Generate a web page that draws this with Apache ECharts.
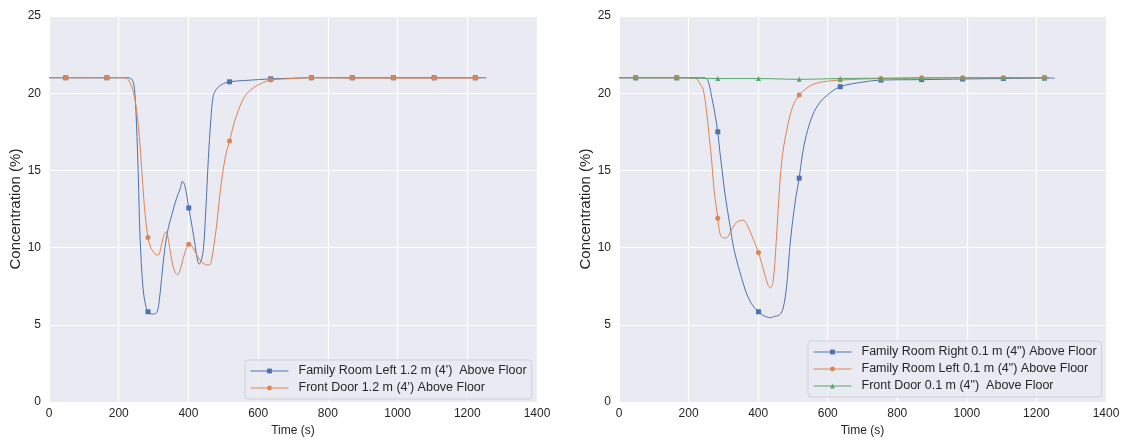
<!DOCTYPE html>
<html>
<head>
<meta charset="utf-8">
<script src="https://cdn.jsdelivr.net/npm/echarts@6/dist/echarts.min.js"></script>
<style>
html,body{margin:0;padding:0;background:#fff;}
#c{width:1125px;height:442px;}
</style>
</head>
<body>
<div id="c"></div>
<script>
// ---------- DATA ----------
const xTicks = [0, 200, 400, 600, 800, 1000, 1200, 1400];
const yTicks = [0, 5, 10, 15, 20, 25];
const markerTimes = [48, 166, 284, 401, 518, 636, 753, 870, 988, 1105, 1223];

const leftNames = ["Family Room Left 1.2 m (4')  Above Floor", "Front Door 1.2 m (4') Above Floor"];
const rightNames = ['Family Room Right 0.1 m (4") Above Floor', 'Family Room Left 0.1 m (4") Above Floor', 'Front Door 0.1 m (4")  Above Floor'];

// Left chart: Family Room Left 1.2 m
const famLeft12T = [0, 48, 100, 166, 200, 225, 235, 242, 247, 251, 256, 261, 270, 278, 284, 297, 309, 316, 323, 332, 342, 352, 366, 376, 383, 390, 401, 411, 419, 426, 431, 437, 443, 450, 457, 464, 471, 480, 495, 518, 560, 600, 636, 700, 753, 870, 988, 1105, 1223, 1255];
const famLeft12V = [21.0, 21.0, 21.0, 21.0, 21.0, 21.0, 20.95, 20.7, 19.8, 18.0, 14.8, 10.8, 7.3, 6.2, 5.85, 5.7, 5.8, 6.5, 8.0, 9.9, 11.25, 12.1, 13.2, 13.8, 14.3, 14.0, 12.57, 11.3, 10.17, 9.2, 8.93, 9.2, 9.9, 12.5, 15.7, 18.2, 19.8, 20.25, 20.56, 20.74, 20.82, 20.88, 20.93, 20.97, 21.0, 21.0, 21.0, 21.0, 21.0, 21.0];

// Left chart: Front Door 1.2 m
const frontDoor12T = [0, 48, 100, 166, 200, 222, 232, 242, 251, 259, 266, 274, 284, 292, 299, 307, 314, 320, 327, 336, 344, 352, 360, 369, 377, 385, 393, 401, 410, 420, 433, 445, 455, 462, 468, 474, 481, 490, 500, 510, 518, 530, 548, 565, 586, 610, 636, 700, 753, 870, 988, 1105, 1223, 1241];
const frontDoor12V = [21.0, 21.0, 21.0, 21.0, 21.0, 20.98, 20.7, 20.1, 18.96, 17.2, 15.1, 12.6, 10.65, 10.0, 9.75, 9.55, 9.53, 9.9, 10.6, 11.03, 10.3, 9.2, 8.5, 8.25, 8.6, 9.3, 9.9, 10.22, 10.1, 9.7, 9.2, 8.95, 8.88, 8.9, 9.4, 10.3, 11.46, 13.4, 15.1, 16.3, 16.9, 18.0, 19.17, 19.9, 20.35, 20.65, 20.85, 20.95, 21.0, 20.98, 20.98, 20.98, 20.98, 20.98];

// Right chart: Family Room Right 0.1 m
const famRight01T = [0, 48, 100, 166, 200, 240, 250, 256, 261, 266, 274, 284, 290, 297, 304, 312, 320, 328, 338, 347, 357, 366, 380, 390, 401, 412, 424, 435, 447, 458, 466, 472, 478, 484, 490, 498, 508, 518, 527, 538, 557, 577, 600, 636, 700, 753, 870, 988, 1105, 1223, 1253];
const famRight01V = [21.0, 21.0, 21.0, 21.0, 21.0, 21.0, 20.98, 20.8, 20.4, 19.8, 18.9, 17.5, 16.2, 14.9, 13.6, 12.4, 11.3, 10.17, 9.2, 8.46, 7.7, 7.07, 6.4, 6.1, 5.85, 5.65, 5.52, 5.46, 5.55, 5.6, 5.75, 6.1, 6.8, 8.0, 9.75, 11.5, 13.2, 14.5, 16.0, 17.25, 18.6, 19.39, 19.9, 20.42, 20.72, 20.85, 20.88, 20.92, 20.95, 20.98, 20.98];

// Right chart: Family Room Left 0.1 m
const famLeft01T = [0, 48, 100, 166, 200, 215, 225, 233, 242, 251, 259, 266, 273, 284, 288, 295, 307, 323, 338, 357, 366, 381, 401, 414, 428, 435, 443, 452, 462, 471, 486, 500, 518, 538, 557, 577, 600, 636, 700, 753, 870, 988, 1105, 1223, 1236];
const famLeft01V = [21.0, 21.0, 21.0, 21.0, 21.0, 20.98, 20.9, 20.6, 20.24, 18.96, 17.25, 15.75, 13.8, 11.9, 11.14, 10.7, 10.62, 11.14, 11.63, 11.78, 11.57, 10.82, 9.68, 8.68, 7.6, 7.39, 7.82, 10.39, 14.03, 16.17, 18.0, 19.17, 19.88, 20.3, 20.56, 20.7, 20.78, 20.85, 20.92, 20.95, 21.0, 21.0, 21.0, 21.0, 21.0];

// Right chart: Front Door 0.1 m
const frontDoor01T = [0, 48, 166, 284, 401, 518, 636, 753, 870, 988, 1105, 1223, 1236];
const frontDoor01V = [21.0, 21.0, 21.0, 20.95, 20.95, 20.9, 20.95, 20.97, 20.98, 21.0, 21.0, 21.0, 21.0];

// ---------- STYLE ----------
const COLORS = ['#4C72B0', '#DD8452', '#55A868'];
const FONT = '"Liberation Sans", Arial, Helvetica, sans-serif';
const TXT = '#262626';

function build(ts, vs) {
  return ts.map((t, i) => markerTimes.indexOf(t) >= 0
    ? [t, vs[i]]
    : { value: [t, vs[i]], symbol: 'none' });
}

function mkSeries(name, idx, ts, vs, color, symbol, size) {
  return {
    type: 'line', name: name, xAxisIndex: idx, yAxisIndex: idx,
    data: build(ts, vs),
    smooth: 0.35,
    symbol: symbol, symbolSize: size, showSymbol: true, showAllSymbol: true,
    lineStyle: { width: 1, color: color },
    itemStyle: { color: color },
    emphasis: { disabled: true },
    silent: true,
    clip: true
  };
}

function xAx(idx) {
  return {
    type: 'value', gridIndex: idx, min: 0, max: 1400, interval: 200,
    name: 'Time (s)', nameLocation: 'middle', nameGap: 22,
    nameTextStyle: { fontFamily: FONT, fontSize: 12, color: TXT },
    axisLine: { show: false }, axisTick: { show: false },
    axisLabel: { margin: 6, fontFamily: FONT, fontSize: 12, color: TXT,
      formatter: v => xTicks.indexOf(v) >= 0 ? String(v) : '' },
    splitLine: { show: true, lineStyle: { color: '#ffffff', width: 1.2 } }
  };
}
function yAx(idx) {
  return {
    type: 'value', gridIndex: idx, min: 0, max: 25, interval: 5,
    name: 'Concentration (%)', nameLocation: 'middle', nameGap: 24,
    nameTextStyle: { fontFamily: FONT, fontSize: 15, color: TXT },
    axisLine: { show: false }, axisTick: { show: false },
    axisLabel: { margin: 8, fontFamily: FONT, fontSize: 12, color: TXT,
      formatter: v => yTicks.indexOf(v) >= 0 ? String(v) : '' },
    splitLine: { show: true, lineStyle: { color: '#ffffff', width: 1.2 } }
  };
}
function legend(names, left, top) {
  return {
    data: names, orient: 'vertical', left: left, top: top,
    itemWidth: 38, itemHeight: 6, itemGap: 3,
    padding: [4, 5, 4, 5],
    backgroundColor: 'rgba(234,234,242,0.8)',
    borderColor: '#cfcfd6', borderWidth: 1, borderRadius: 3,
    lineStyle: { width: 1 },
    textStyle: { fontFamily: FONT, fontSize: 12.5, color: TXT, lineHeight: 14, padding: [0, 0, 0, 5] },
    selectedMode: false
  };
}

const chart = echarts.init(document.getElementById('c'), null, { renderer: 'canvas' });
chart.setOption({
  animation: false,
  backgroundColor: '#ffffff',
  grid: [
    { left: 49, top: 16, width: 488, height: 389, show: true, backgroundColor: '#EAEAF2', borderWidth: 0 },
    { left: 619, top: 16, width: 487, height: 389, show: true, backgroundColor: '#EAEAF2', borderWidth: 0 }
  ],
  xAxis: [xAx(0), xAx(1)],
  yAxis: [yAx(0), yAx(1)],
  legend: [legend(leftNames, 245, 360), legend(rightNames, 808, 341)],
  series: [
    mkSeries(leftNames[0], 0, famLeft12T, famLeft12V, COLORS[0], 'rect', 5),
    mkSeries(leftNames[1], 0, frontDoor12T, frontDoor12V, COLORS[1], 'circle', 5),
    mkSeries(rightNames[0], 1, famRight01T, famRight01V, COLORS[0], 'rect', 5),
    mkSeries(rightNames[1], 1, famLeft01T, famLeft01V, COLORS[1], 'circle', 5),
    mkSeries(rightNames[2], 1, frontDoor01T, frontDoor01V, COLORS[2], 'triangle', 5)
  ]
});
</script>
</body>
</html>
